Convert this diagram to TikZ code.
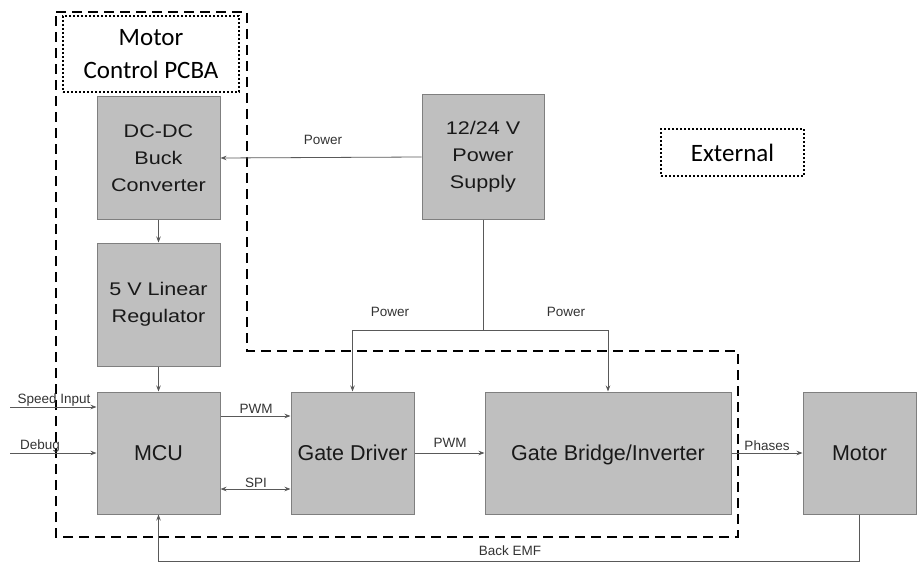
\documentclass[tikz,border=0pt]{standalone}
\usepackage{fontspec}
\setmainfont{Liberation Sans}
\newfontfamily\calfont{Carlito}
\newfontfamily\widefont[FakeStretch=1.18]{Liberation Sans}
\usetikzlibrary{arrows.meta}
\definecolor{boxfill}{HTML}{BFBFBF}
\definecolor{boxline}{HTML}{7F7F7F}
\definecolor{wire}{HTML}{595959}
\begin{document}
\begin{tikzpicture}[x=1pt,y=-1pt,
  blk/.style={draw=boxline, fill=boxfill, line width=1pt, align=center, text=black!90,
    font=\fontsize{21.5}{27}\selectfont, inner sep=0pt},
  upblk/.style={blk, font=\widefont\fontsize{18.3}{27}\selectfont},
  arr/.style={draw=wire, line width=0.8pt, -{Stealth[length=6pt,width=4.5pt]}},
  biarr/.style={draw=wire, line width=0.8pt, {Stealth[length=6pt,width=4.5pt]}-{Stealth[length=6pt,width=4.5pt]}},
  wireline/.style={draw=wire, line width=0.8pt},
  lbl/.style={font=\fontsize{13.5}{15}\selectfont, text=black!80, inner sep=0pt},
  bnd/.style={draw=black, line width=2.6pt, dash pattern=on 10pt off 6pt},
  dotbox/.style={draw=black, line width=2pt, dotted, align=center, inner sep=0pt,
    font=\calfont\fontsize{25}{33}\selectfont}
]
\useasboundingbox (0,0) rectangle (917,564);

% boundary of Motor Control PCBA
\draw[bnd] (56,12) -- (247,12) -- (247,351) -- (738,351) -- (738,537) -- (56,537) -- cycle;

% blocks
\node[upblk, minimum width=123pt, minimum height=122pt] (buck) at (158.5,158) {DC-DC\\Buck\\Converter};
\node[upblk, minimum width=123pt, minimum height=123pt] (lin) at (158.5,304.5) {5 V Linear\\Regulator};
\node[upblk, minimum width=122pt, minimum height=124pt] (ps) at (483,157) {12/24 V\\Power\\Supply};
\node[blk, minimum width=123pt, minimum height=122pt] (mcu) at (158.5,453) {MCU};
\node[blk, minimum width=123pt, minimum height=122pt] (gd) at (352.5,453) {Gate Driver};
\node[blk, minimum width=246pt, minimum height=122pt, text depth=0pt] (inv) at (608,453) {Gate Bridge/Inverter};
\node[blk, minimum width=113pt, minimum height=122pt] (motor) at (859.5,453) {Motor};

% dotted legend boxes
\node[dotbox, minimum width=176pt, minimum height=76pt] (pcba) at (151,54) {Motor\\Control PCBA};
\node[dotbox, minimum width=143pt, minimum height=47pt] (ext) at (732.5,152.5) {External};

% connectors
\draw[arr] (ps.west) -- (buck.east);
\node[lbl] (lp1) at (323,140) {Power};
\draw[arr] (buck.south) -- (lin.north);
\draw[arr] (lin.south) -- (mcu.north);

\coordinate (j) at (483,330);
\draw[wireline] (ps.south) -- (j);
\draw[arr] (j) -| (gd.north);
\draw[arr] (j) -| (inv.north);
\node[lbl] (lp2) at (390,312) {Power};
\node[lbl] (lp3) at (566,312) {Power};

\coordinate (si) at (10,407);
\draw[arr] (si) -- (mcu.west |- si);
\node[lbl] (lsi) at (54,400) {Speed Input};
\coordinate (db) at (10,453);
\draw[arr] (db) -- (mcu.west);
\node[lbl] (ldb) at (40,446) {Debug};

\draw[arr] ([yshift=37pt]mcu.east) -- ([yshift=37pt]gd.west);
\node[lbl] (lpwm1) at (256,409) {PWM};
\draw[biarr] ([yshift=-36pt]mcu.east) -- ([yshift=-36pt]gd.west);
\node[lbl] (lspi) at (256,483) {SPI};

\draw[arr] (gd.east) -- (inv.west);
\node[lbl] (lpwm2) at (450,443) {PWM};
\draw[arr] (inv.east) -- (motor.west);
\node[lbl] (lph) at (767,446) {Phases};

\coordinate (be) at (motor.south |- 0,561);
\draw[arr] (motor.south) -- (be) -| (mcu.south);
\node[lbl] (lbe) at (510,551) {Back EMF};
\end{tikzpicture}
\end{document}
